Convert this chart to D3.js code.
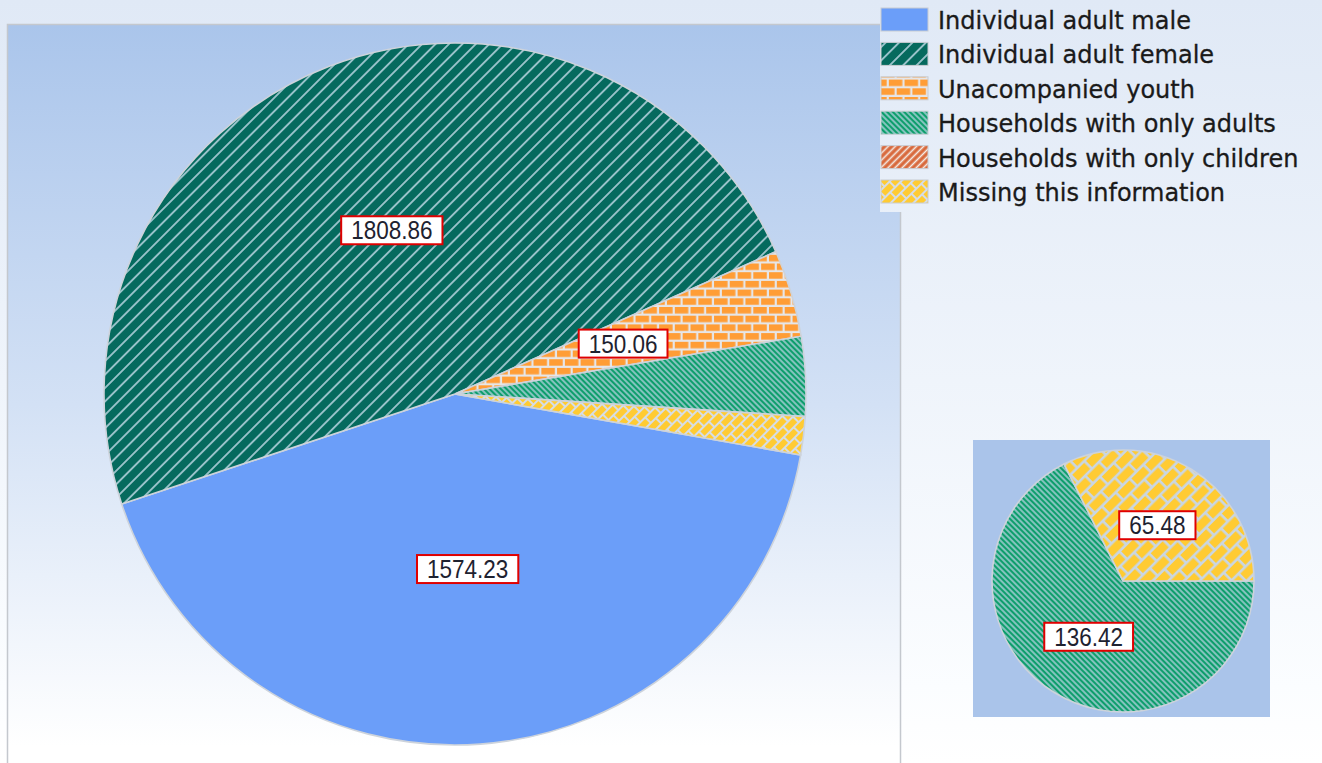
<!DOCTYPE html>
<html>
<head>
<meta charset="utf-8">
<script src="https://cdn.jsdelivr.net/npm/d3@7"></script>
<style>
  body { margin: 0; background: #fff; }
  svg { display: block; }
</style>
</head>
<body>
<svg id="chart" width="1322" height="763"></svg>
<script>
// data
const categories = ['Individual adult male','Individual adult female','Unacompanied youth',
                    'Households with only adults','Households with only children','Missing this information'];
const mainValues = [1574.23, 1808.86, 150.06, 136.42, 0, 65.48];
const mainLabels = ['1574.23', '1808.86', '150.06', '', '', ''];
const detailCategories = ['Households with only adults', 'Missing this information'];
const detailValues = [136.42, 65.48];
const detailLabels = ['136.42', '65.48'];

const W = 1322, H = 763;
const svg = d3.select('#chart');
const defs = svg.append('defs');

// backgrounds
const bgGrad = defs.append('linearGradient').attr('id','bg').attr('gradientUnits','userSpaceOnUse')
    .attr('x1',0).attr('y1',0).attr('x2',0).attr('y2',H);
bgGrad.append('stop').attr('offset',0).attr('stop-color','#e0e9f6');
bgGrad.append('stop').attr('offset',0.9).attr('stop-color','#fbfdff');
bgGrad.append('stop').attr('offset',1).attr('stop-color','#ffffff');
const plotGrad = defs.append('linearGradient').attr('id','plotbg').attr('x1',0).attr('y1',0).attr('x2',0).attr('y2',1);
plotGrad.append('stop').attr('offset',0).attr('stop-color','#aac5eb');
plotGrad.append('stop').attr('offset',0.5).attr('stop-color','#d3e1f5');
plotGrad.append('stop').attr('offset',0.95).attr('stop-color','#ffffff');

// patterns
function hatch(id, bg, line, size, angle, lw){
    const p = defs.append('pattern').attr('id',id).attr('patternUnits','userSpaceOnUse')
        .attr('width',size).attr('height',size).attr('patternTransform',`rotate(${angle})`);
    p.append('rect').attr('width',size).attr('height',size).attr('fill',bg);
    p.append('line').attr('x1',size/2).attr('y1',0).attr('x2',size/2).attr('y2',size)
        .attr('stroke',line).attr('stroke-width',lw);
}
function bricks(id, bg, brick, bw, bh, gap, angle){
    const pw = bw + gap, ph = (bh + gap) * 2;
    const p = defs.append('pattern').attr('id',id).attr('patternUnits','userSpaceOnUse')
        .attr('width',pw).attr('height',ph).attr('patternTransform',`rotate(${angle})`);
    p.append('rect').attr('width',pw).attr('height',ph).attr('fill',bg);
    p.append('rect').attr('x',0).attr('y',0).attr('width',bw).attr('height',bh).attr('fill',brick);
    p.append('rect').attr('x',-pw/2).attr('y',bh+gap).attr('width',bw).attr('height',bh).attr('fill',brick);
    p.append('rect').attr('x',pw/2).attr('y',bh+gap).attr('width',bw).attr('height',bh).attr('fill',brick);
}
hatch('p-female','#056a5e','#b4d3de',9.5,45,1.6);
hatch('p-adults','#0e9e6c','#c4d8ea',4,-45,1.3);
hatch('p-children','#d8693c','#f4ece6',5,45,1.6);
bricks('p-youth','#e6e6e8','#ff9d36',13.5,6.5,2.2,0);
bricks('p-missing','#d6dde6','#ffcb33',12,6,2,-45);
bricks('p-missing-lg','#c9d6e4','#ffcb33',17,8.5,2.6,-45);

const fills = ['#6b9ef9','url(#p-female)','url(#p-youth)','url(#p-adults)','url(#p-children)','url(#p-missing)'];
const color = d3.scaleOrdinal().domain(categories).range(fills);
const detailColor = d3.scaleOrdinal().domain(detailCategories).range(['url(#p-adults)','url(#p-missing-lg)']);

svg.append('rect').attr('width',W).attr('height',H).attr('fill','url(#bg)');

// plot area
svg.append('rect').attr('x',7.5).attr('y',24.5).attr('width',893).attr('height',760)
    .attr('fill','url(#plotbg)').attr('stroke','#c4c8ce').attr('stroke-width',1.5);

function drawPie(g, values, labels, cats, col, r, start){
    const pie = d3.pie().sort(null).value(d=>d.v).startAngle(start).endAngle(start + 2*Math.PI);
    const arc = d3.arc().innerRadius(0).outerRadius(r);
    const data = pie(values.map((v,i)=>({v:v, c:cats[i], l:labels[i]}))).filter(d=>d.data.v>0);
    g.selectAll('path.slice').data(data).enter().append('path')
        .attr('class','slice')
        .attr('d',arc)
        .attr('fill',d=>col(d.data.c))
        .attr('stroke','#cdd3db')
        .attr('stroke-width',1.6);
    const lab = g.selectAll('g.lab').data(data.filter(d=>d.data.l)).enter().append('g')
        .attr('class','lab')
        .attr('transform',d=>`translate(${arc.centroid(d)})`);
    lab.append('rect').attr('fill','#fff').attr('stroke','#e00000').attr('stroke-width',2);
    lab.append('text')
        .attr('text-anchor','middle').attr('dy','0.36em')
        .attr('transform','scale(0.9,1)')
        .attr('font-family','"Liberation Sans", Arial, sans-serif')
        .attr('font-size',25).attr('fill','#1e2230')
        .text(d=>d.data.l);
    lab.each(function(){
        const t = d3.select(this).select('text').node().getComputedTextLength() * 0.9;
        d3.select(this).select('rect').attr('x',-t/2-10).attr('y',-14).attr('width',t+20).attr('height',28);
    });
}

const mainG = svg.append('g').attr('transform','translate(455,394)');
drawPie(mainG, mainValues, mainLabels, categories, color, 351, 100*Math.PI/180);

// detail pie
svg.append('rect').attr('x',973).attr('y',440).attr('width',297).attr('height',277).attr('fill','#aac4ea');
const detG = svg.append('g').attr('transform','translate(1123,581)');
drawPie(detG, detailValues, detailLabels, detailCategories, detailColor, 131, Math.PI/2);

// legend
svg.append('rect').attr('x',880).attr('y',0).attr('width',W-880).attr('height',212).attr('fill','url(#bg)');
const leg = svg.append('g').selectAll('g').data(categories).enter().append('g')
    .attr('transform',(d,i)=>`translate(881,${19.5 + i*34.4})`);
leg.append('rect').attr('x',0).attr('y',-11.5).attr('width',47).attr('height',23)
    .attr('fill',d=>color(d)).attr('stroke','#c8ccd2').attr('stroke-width',1);
leg.append('text').attr('x',57).attr('y',9.5)
    .attr('font-family','"DejaVu Sans", Verdana, sans-serif').attr('font-size',24)
    .attr('fill','#1a1a1a').attr('stroke','#1a1a1a').attr('stroke-width',0.3)
    .text(d=>d);
</script>
</body>
</html>
